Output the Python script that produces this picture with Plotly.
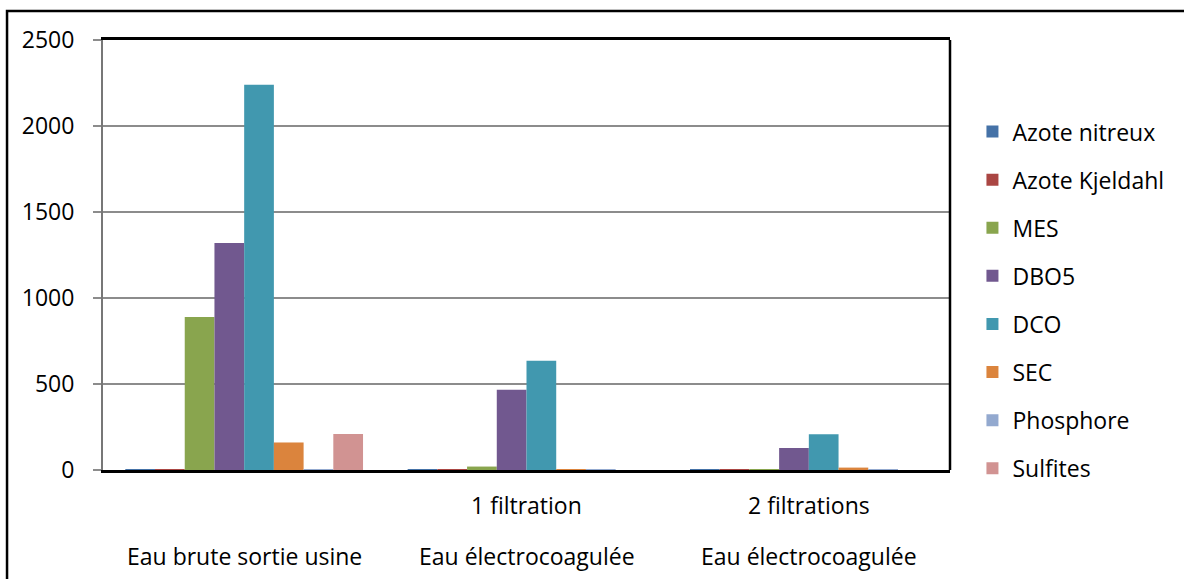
import plotly.graph_objects as go

# Sample categories (two-level labels: treatment step / water type)
step_labels = ["", "1 filtration", "2 filtrations"]
water_labels = ["Eau brute sortie usine", "Eau électrocoagulée", "Eau électrocoagulée"]
categories = ["c0", "c1", "c2"]

# Measured parameters per sample
azote_nitreux = [1, 0.5, 0.3]
azote_kjeldahl = [3, 1, 1]
mes = [890, 20, 3]
dbo5 = [1320, 466, 128]
dco = [2240, 635, 208]
sec = [160, 5, 14]
phosphore = [2, 0.5, 0.3]
sulfites = [210, 0, 0]

series = [
    ("Azote nitreux", azote_nitreux, "#4572A7"),
    ("Azote Kjeldahl", azote_kjeldahl, "#AA4643"),
    ("MES", mes, "#89A54E"),
    ("DBO5", dbo5, "#71588F"),
    ("DCO", dco, "#4198AF"),
    ("SEC", sec, "#DB843D"),
    ("Phosphore", phosphore, "#93A9CF"),
    ("Sulfites", sulfites, "#D19392"),
]

FONT = "Open Sans"
FS = 23

fig = go.Figure()
for i, (name, vals, color) in enumerate(series):
    fig.add_trace(go.Bar(
        x=categories, y=vals, name=name,
        marker=dict(color=color, line=dict(width=0)),
        legendgroup=f"g{i}",
    ))

# Two-row category labels under the axis
annotations = []
for cat, step, water in zip(categories, step_labels, water_labels):
    if step:
        annotations.append(dict(x=cat, y=-0.081, xref="x", yref="paper", text=step,
                                showarrow=False, yanchor="middle",
                                font=dict(family=FONT, size=FS, color="#000")))
    annotations.append(dict(x=cat, y=-0.2, xref="x", yref="paper", text=water,
                            showarrow=False, yanchor="middle",
                            font=dict(family=FONT, size=FS, color="#000")))

shapes = [
    # outer chart frame
    dict(type="rect", xref="paper", yref="paper", x0=-0.1133, x1=1.3, y0=-0.3, y1=1.0674,
         line=dict(color="#000", width=2.5), layer="below"),
    # right edge of plot area
    dict(type="line", xref="paper", yref="paper", x0=1, x1=1, y0=0, y1=1,
         line=dict(color="#000", width=2.5)),
]

fig.update_layout(
    width=1184, height=579,
    margin=dict(l=103, r=234, t=40, b=109),
    paper_bgcolor="white", plot_bgcolor="white",
    barmode="group", bargap=0.158, bargroupgap=0,
    font=dict(family=FONT, size=FS, color="#000"),
    showlegend=True,
    legend=dict(x=1.0265, y=0.837, xanchor="left", yanchor="top",
                traceorder="grouped", tracegroupgap=15.2,
                font=dict(family=FONT, size=FS, color="#000"),
                bgcolor="rgba(0,0,0,0)"),
    annotations=annotations,
    shapes=shapes,
)

fig.update_xaxes(type="category", range=[-0.5, 2.5], showticklabels=False,
                 showline=True, linecolor="#000", linewidth=2.5, mirror=True,
                 showgrid=False, ticks="", zeroline=False)
fig.update_yaxes(range=[0, 2500], dtick=500, showgrid=True, gridcolor="#8C8C8C", gridwidth=1.5,
                 showline=True, linecolor="#777", linewidth=2, ticks="outside", ticklen=8,
                 tickcolor="#8C8C8C", tickwidth=1.5, ticklabelstandoff=14, zeroline=False,
                 tickfont=dict(family=FONT, size=FS, color="#000"))

fig.write_html("out.html")
